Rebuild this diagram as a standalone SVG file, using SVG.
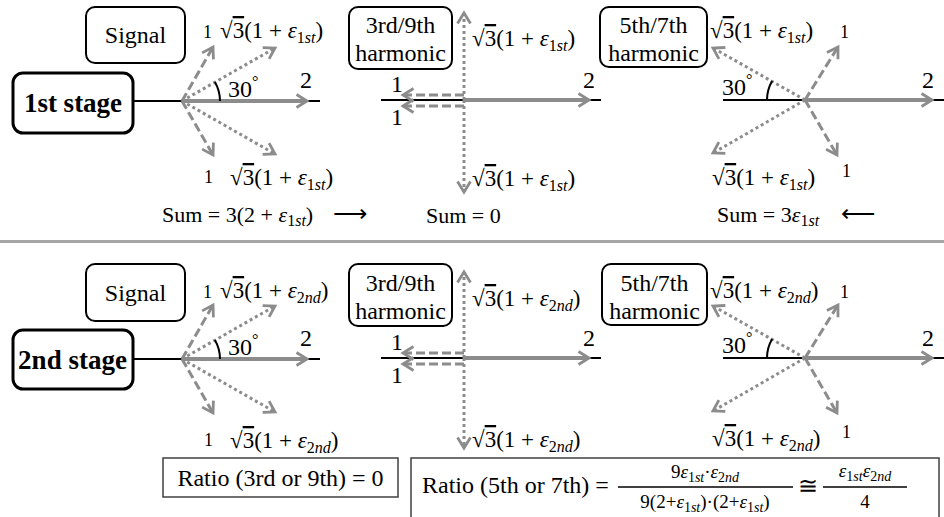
<svg xmlns="http://www.w3.org/2000/svg" width="944" height="517" viewBox="0 0 944 517">
<style>
.t{font-family:"Liberation Serif",serif;font-size:24px;fill:#000}
.b{font-family:"Liberation Serif",serif;font-weight:bold;font-size:27px}
.m{font-family:"Liberation Serif",serif;font-size:23px;fill:#000}
.i{font-style:italic}
.s{font-size:16px}
.n{font-size:18px}
.sum{font-family:"Liberation Serif",serif;font-size:22px}
.f{font-family:"Liberation Serif",serif;font-size:19px}
.s2{font-size:14px}
.ov{text-decoration:overline}
.ar{font-family:"Liberation Serif",serif;font-size:24px;fill:#000}
.box{fill:#fff;stroke:#000;stroke-width:2}
.stage{fill:#fff;stroke:#000;stroke-width:3}
.blk{stroke:#000;stroke-width:2;fill:none}
.g{stroke:#8c8c8c;stroke-width:4;fill:none;marker-end:url(#ah)}
.d{stroke:#8c8c8c;stroke-width:3;stroke-dasharray:9 4;fill:none;marker-end:url(#ah)}
.o{stroke:#8c8c8c;stroke-width:3;stroke-dasharray:3 3;fill:none;marker-end:url(#ah)}
.rb{fill:#fff;stroke:#404040;stroke-width:1.5}
.fl{stroke:#000;stroke-width:1.5}
.sep{stroke:#a6a6a6;stroke-width:3}
</style>
<defs>
<marker id="ah" viewBox="0 0 14 14" refX="12" refY="7" markerWidth="14" markerHeight="14" markerUnits="userSpaceOnUse" orient="auto-start-reverse" style="overflow:visible">
<path d="M1.5,0.5 L12,7 L1.5,13.5" fill="none" stroke="#8c8c8c" stroke-width="2.8"/>
</marker>
</defs>
<rect width="944" height="517" fill="#fff"/>

<!-- TOP PANEL: 1st stage -->
<g id="connectors-top">
<line class="blk" x1="134" y1="101" x2="320" y2="101"/>
<line class="g" x1="182" y1="101" x2="307" y2="101"/>
<line class="d" x1="182" y1="101" x2="213" y2="47"/>
<line class="d" x1="182" y1="101" x2="213" y2="155"/>
<line class="o" x1="182" y1="101" x2="275" y2="48"/>
<line class="o" x1="182" y1="101" x2="275" y2="154"/>
<path class="blk" d="M220,101 A38,38 0 0 0 214.9,82"/>

<line class="blk" x1="381" y1="100" x2="601" y2="100"/>
<line class="g" x1="464" y1="100" x2="589" y2="100"/>
<line class="d" x1="464" y1="95" x2="403" y2="95"/>
<line class="d" x1="464" y1="106" x2="403" y2="106"/>
<line class="o" x1="464" y1="100" x2="464" y2="13"/>
<line class="o" x1="464" y1="100" x2="464" y2="192"/>

<line class="blk" x1="723" y1="100" x2="944" y2="100"/>
<line class="g" x1="805" y1="100" x2="932" y2="100"/>
<line class="d" x1="805" y1="100" x2="838" y2="47"/>
<line class="d" x1="805" y1="100" x2="837" y2="155"/>
<line class="o" x1="805" y1="100" x2="713" y2="48"/>
<line class="o" x1="805" y1="100" x2="713" y2="153"/>
<path class="blk" d="M767,100 A38,38 0 0 1 772.1,81"/>
</g>

<g id="signal-1"><rect class="box" x="86" y="7" width="99" height="56" rx="9"/><text class="t" x="135.5" y="43" text-anchor="middle">Signal</text></g>
<g id="stage-1"><rect class="stage" x="13" y="73" width="120" height="60" rx="10"/><text class="b" x="73" y="112" text-anchor="middle">1st stage</text></g>
<g id="h39-1"><rect class="box" x="349" y="7" width="103" height="62" rx="9"/><text class="t" x="400.5" y="33" text-anchor="middle">3rd/9th</text><text class="t" x="400.5" y="61" text-anchor="middle">harmonic</text></g>
<g id="h57-1"><rect class="box" x="600" y="7" width="107" height="60" rx="9"/><text class="t" x="653.5" y="33" text-anchor="middle">5th/7th</text><text class="t" x="653.5" y="61" text-anchor="middle">harmonic</text></g>

<g id="labels-top">
<text class="t" x="228" y="97">30<tspan class="s" dy="-10">°</tspan></text>
<text class="t" x="300" y="88">2</text>
<text class="t n" x="203" y="38">1</text>
<text class="m" x="220" y="38">√<tspan class="ov">3</tspan>(1 + <tspan class="i">ε</tspan><tspan class="s" dy="5">1<tspan class="i">st</tspan></tspan><tspan dy="-5">)</tspan></text>
<text class="t n" x="204" y="183">1</text>
<text class="m" x="230" y="185">√<tspan class="ov">3</tspan>(1 + <tspan class="i">ε</tspan><tspan class="s" dy="5">1<tspan class="i">st</tspan></tspan><tspan dy="-5">)</tspan></text>
<text class="sum" x="162" y="222">Sum = 3(2 + <tspan class="i">ε</tspan><tspan class="s" dy="4">1<tspan class="i">st</tspan></tspan><tspan dy="-4">)</tspan></text>
<text class="ar" x="333" y="222">⟶</text>

<text class="t" x="391" y="92">1</text>
<text class="t" x="391" y="125">1</text>
<text class="t" x="583" y="88">2</text>
<text class="m" x="472" y="46">√<tspan class="ov">3</tspan>(1 + <tspan class="i">ε</tspan><tspan class="s" dy="5">1<tspan class="i">st</tspan></tspan><tspan dy="-5">)</tspan></text>
<text class="m" x="472" y="186">√<tspan class="ov">3</tspan>(1 + <tspan class="i">ε</tspan><tspan class="s" dy="5">1<tspan class="i">st</tspan></tspan><tspan dy="-5">)</tspan></text>
<text class="sum" x="426" y="223">Sum = 0</text>

<text class="m" x="710" y="38">√<tspan class="ov">3</tspan>(1 + <tspan class="i">ε</tspan><tspan class="s" dy="5">1<tspan class="i">st</tspan></tspan><tspan dy="-5">)</tspan></text>
<text class="t n" x="840" y="38">1</text>
<text class="t" x="722" y="95">30<tspan class="s" dy="-10">°</tspan></text>
<text class="t" x="922" y="88">2</text>
<text class="m" x="712" y="185">√<tspan class="ov">3</tspan>(1 + <tspan class="i">ε</tspan><tspan class="s" dy="5">1<tspan class="i">st</tspan></tspan><tspan dy="-5">)</tspan></text>
<text class="t n" x="842" y="177">1</text>
<text class="sum" x="717" y="222">Sum = 3<tspan class="i">ε</tspan><tspan class="s" dy="4">1<tspan class="i">st</tspan></tspan></text>
<text class="ar" x="841" y="222">⟵</text>
</g>

<line class="sep" x1="0" y1="241.5" x2="944" y2="241.5"/>

<!-- BOTTOM PANEL: 2nd stage -->
<g transform="translate(0,258)">
<g id="connectors-bottom">
<line class="blk" x1="134" y1="101" x2="320" y2="101"/>
<line class="g" x1="182" y1="101" x2="307" y2="101"/>
<line class="d" x1="182" y1="101" x2="213" y2="47"/>
<line class="d" x1="182" y1="101" x2="213" y2="155"/>
<line class="o" x1="182" y1="101" x2="275" y2="48"/>
<line class="o" x1="182" y1="101" x2="275" y2="154"/>
<path class="blk" d="M220,101 A38,38 0 0 0 214.9,82"/>

<line class="blk" x1="381" y1="100" x2="601" y2="100"/>
<line class="g" x1="464" y1="100" x2="589" y2="100"/>
<line class="d" x1="464" y1="95" x2="403" y2="95"/>
<line class="d" x1="464" y1="106" x2="403" y2="106"/>
<line class="o" x1="464" y1="100" x2="464" y2="14"/>
<line class="o" x1="464" y1="100" x2="464" y2="190"/>

<line class="blk" x1="723" y1="100" x2="944" y2="100"/>
<line class="g" x1="805" y1="100" x2="932" y2="100"/>
<line class="d" x1="805" y1="100" x2="838" y2="47"/>
<line class="d" x1="805" y1="100" x2="837" y2="155"/>
<line class="o" x1="805" y1="100" x2="713" y2="48"/>
<line class="o" x1="805" y1="100" x2="713" y2="153"/>
<path class="blk" d="M767,100 A38,38 0 0 1 772.1,81"/>
</g>

<g id="signal-2"><rect class="box" x="86" y="6" width="99" height="57" rx="9"/><text class="t" x="135.5" y="43" text-anchor="middle">Signal</text></g>
<g id="stage-2"><rect class="stage" x="13" y="72" width="120" height="59" rx="10"/><text class="b" x="72.5" y="111" text-anchor="middle">2nd stage</text></g>
<g id="h39-2"><rect class="box" x="349" y="6" width="103" height="62" rx="9"/><text class="t" x="400.5" y="33" text-anchor="middle">3rd/9th</text><text class="t" x="400.5" y="61" text-anchor="middle">harmonic</text></g>
<g id="h57-2"><rect class="box" x="602" y="6" width="105" height="61" rx="9"/><text class="t" x="654.5" y="33" text-anchor="middle">5th/7th</text><text class="t" x="654.5" y="61" text-anchor="middle">harmonic</text></g>

<g id="labels-bottom">
<text class="t" x="228" y="97">30<tspan class="s" dy="-10">°</tspan></text>
<text class="t" x="300" y="88">2</text>
<text class="t n" x="203" y="40">1</text>
<text class="m" x="220" y="40">√<tspan class="ov">3</tspan>(1 + <tspan class="i">ε</tspan><tspan class="s" dy="5">2<tspan class="i">nd</tspan></tspan><tspan dy="-5">)</tspan></text>
<text class="t n" x="204" y="188">1</text>
<text class="m" x="230" y="190">√<tspan class="ov">3</tspan>(1 + <tspan class="i">ε</tspan><tspan class="s" dy="5">2<tspan class="i">nd</tspan></tspan><tspan dy="-5">)</tspan></text>

<text class="t" x="391" y="92">1</text>
<text class="t" x="391" y="125">1</text>
<text class="t" x="583" y="88">2</text>
<text class="m" x="472" y="48">√<tspan class="ov">3</tspan>(1 + <tspan class="i">ε</tspan><tspan class="s" dy="5">2<tspan class="i">nd</tspan></tspan><tspan dy="-5">)</tspan></text>
<text class="m" x="472" y="189">√<tspan class="ov">3</tspan>(1 + <tspan class="i">ε</tspan><tspan class="s" dy="5">2<tspan class="i">nd</tspan></tspan><tspan dy="-5">)</tspan></text>

<text class="m" x="710" y="40">√<tspan class="ov">3</tspan>(1 + <tspan class="i">ε</tspan><tspan class="s" dy="5">2<tspan class="i">nd</tspan></tspan><tspan dy="-5">)</tspan></text>
<text class="t n" x="840" y="40">1</text>
<text class="t" x="722" y="95">30<tspan class="s" dy="-10">°</tspan></text>
<text class="t" x="922" y="88">2</text>
<text class="m" x="712" y="188">√<tspan class="ov">3</tspan>(1 + <tspan class="i">ε</tspan><tspan class="s" dy="5">2<tspan class="i">nd</tspan></tspan><tspan dy="-5">)</tspan></text>
<text class="t n" x="842" y="180">1</text>
</g>
</g>

<g id="ratio-3-9">
<rect class="rb" x="163" y="458" width="235" height="39"/>
<text class="t" x="280.5" y="486" text-anchor="middle">Ratio (3rd or 9th) = 0</text>
</g>
<g id="ratio-5-7">
<rect class="rb" x="411" y="458" width="528" height="70"/>
<text class="t" x="422" y="493">Ratio (5th or 7th) =</text>
<text class="f" x="705" y="478" text-anchor="middle">9<tspan class="i">ε</tspan><tspan class="s2" dy="4">1<tspan class="i">st</tspan></tspan><tspan dy="-4">·</tspan><tspan class="i">ε</tspan><tspan class="s2" dy="4">2<tspan class="i">nd</tspan></tspan></text>
<line class="fl" x1="618" y1="487" x2="793" y2="487"/>
<text class="f" x="705" y="508" text-anchor="middle">9(2+<tspan class="i">ε</tspan><tspan class="s2" dy="4">1<tspan class="i">st</tspan></tspan><tspan dy="-4">)·(2+</tspan><tspan class="i">ε</tspan><tspan class="s2" dy="4">1<tspan class="i">st</tspan></tspan><tspan dy="-4">)</tspan></text>
<text class="t" x="808" y="494" text-anchor="middle">≅</text>
<text class="f" x="865" y="477" text-anchor="middle"><tspan class="i">ε</tspan><tspan class="s2" dy="4">1<tspan class="i">st</tspan></tspan><tspan class="i" dy="-4">ε</tspan><tspan class="s2" dy="4">2<tspan class="i">nd</tspan></tspan></text>
<line class="fl" x1="823" y1="487" x2="907" y2="487"/>
<text class="f" x="865" y="508" text-anchor="middle">4</text>
</g>
</svg>
